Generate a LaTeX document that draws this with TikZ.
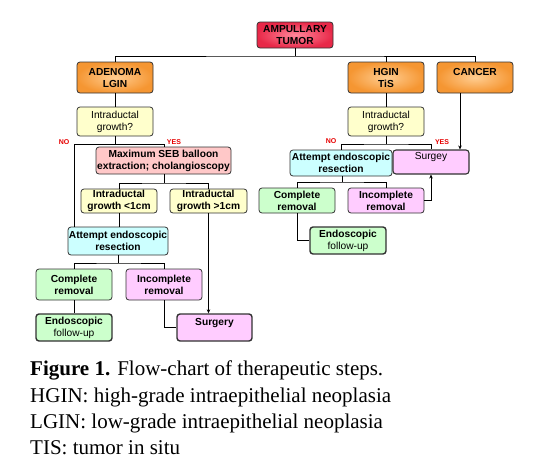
\documentclass[tikz,border=0pt]{standalone}
\usepackage{fontspec}
\setmainfont{Liberation Serif}
\newfontfamily\boxfont{Liberation Sans}
\usetikzlibrary{arrows.meta}
\definecolor{bordc}{RGB}{50,50,50}
\definecolor{redo}{RGB}{232,40,72}
\definecolor{redi}{RGB}{255,135,155}
\definecolor{orao}{RGB}{245,150,50}
\definecolor{orai}{RGB}{255,205,145}
\definecolor{yelf}{RGB}{255,255,204}
\definecolor{pinkf}{RGB}{255,200,200}
\definecolor{cyanf}{RGB}{204,255,255}
\definecolor{greenf}{RGB}{204,255,204}
\definecolor{magf}{RGB}{255,204,255}
\definecolor{labred}{RGB}{230,0,0}
\tikzset{
  bx/.style={draw=bordc, line width=0.8pt, rounded corners=3pt, align=center,
    inner sep=0pt, font=\boxfont\fontsize{10.2}{12}\selectfont\bfseries},
  thinfont/.style={font=\boxfont\fontsize{10.2}{12}\selectfont},
  thickbx/.style={bx, line width=1.4pt},
  redbx/.style={bx, inner color=redi, outer color=redo},
  orabx/.style={bx, inner color=orai, outer color=orao},
  yelbx/.style={bx, fill=yelf},
  pinkbx/.style={bx, fill=pinkf},
  cyanbx/.style={bx, fill=cyanf},
  greenbx/.style={bx, fill=greenf},
  magbx/.style={bx, fill=magf},
  conn/.style={draw=black, line width=0.9pt},
  arr/.style={draw=black, line width=0.6pt, -{Stealth[length=4pt,width=3.5pt]}},
  lab/.style={text=labred, font=\boxfont\fontsize{7}{8}\selectfont\bfseries, inner sep=0pt},
  captext/.style={anchor=base west, inner sep=0pt, font=\fontsize{21}{24}\selectfont}
}
\begin{document}
\begin{tikzpicture}[x=1pt,y=-1pt]
\useasboundingbox (0,0) rectangle (541,466);
% nodes
\node[redbx, minimum width=76pt, minimum height=26pt] (amp) at (295,35) {AMPULLARY\\TUMOR};
\node[orabx, minimum width=76pt, minimum height=31pt] (adeno) at (115,77.5) {ADENOMA\\LGIN};
\node[orabx, minimum width=76pt, minimum height=31pt] (hgin) at (386,77.5) {HGIN\\TiS};
\node[orabx, minimum width=76pt, minimum height=31pt] (cancer) at (475,77.5) {CANCER\\\phantom{X}};
\node[yelbx, thinfont, minimum width=76pt, minimum height=29pt] (igL) at (115,121.5) {Intraductal\\growth?};
\node[yelbx, thinfont, minimum width=76pt, minimum height=29pt] (igR) at (386,121.5) {Intraductal\\growth?};
\node[pinkbx, minimum width=135pt, minimum height=27pt] (seb) at (163.5,160.5) {Maximum SEB balloon\\extraction; cholangioscopy};
\node[yelbx, minimum width=76pt, minimum height=24pt] (ig2) at (119,201) {Intraductal\\growth <1cm};
\node[yelbx, minimum width=77pt, minimum height=24pt] (ig3) at (208.5,201) {Intraductal\\growth >1cm};
\node[cyanbx, minimum width=100pt, minimum height=28pt] (attL) at (118,241) {Attempt endoscopic\\resection};
\node[greenbx, minimum width=76pt, minimum height=31pt] (compL) at (74,284.5) {Complete\\removal};
\node[magbx, minimum width=76pt, minimum height=31pt] (incL) at (164,284.5) {Incomplete\\removal};
\node[greenbx, thickbx, minimum width=76pt, minimum height=27pt] (endoL) at (74,327.5) {Endoscopic\\{\mdseries follow-up}};
\node[magbx, thickbx, minimum width=75pt, minimum height=27pt] (surgL) at (214.5,327.5) {Surgery\\\phantom{X}};
\node[cyanbx, minimum width=102pt, minimum height=26pt] (attR) at (341,163) {Attempt endoscopic\\resection};
\node[magbx, thinfont, line width=1.1pt, minimum width=76pt, minimum height=24pt] (surgR) at (431,162) {Surgey\\\phantom{X}};
\node[greenbx, minimum width=76pt, minimum height=25pt] (compR) at (297,200.5) {Complete\\removal};
\node[magbx, minimum width=76pt, minimum height=25pt] (incR) at (386,200.5) {Incomplete\\removal};
\node[greenbx, thickbx, minimum width=76pt, minimum height=27pt] (endoR) at (348,240.5) {Endoscopic\\{\mdseries follow-up}};
% connectors
\coordinate (b1) at (295,56);
\draw[conn] (amp.south) -- (b1);
\draw[conn] (adeno.north) |- (b1) -| (cancer.north);
\draw[conn] (hgin.north) -- (hgin.north |- b1);
\draw[conn] (adeno.south) -- (igL.north);
\coordinate (b2) at (115,144);
\coordinate (noL) at (74,144);
\coordinate (yesL) at (164,144);
\draw[conn] (igL.south) -- (b2);
\draw[conn] (yesL) -- (noL) -- (noL |- attL.north);
\draw[conn] (yesL) -- (yesL |- seb.north);
\coordinate (b3) at (164,183);
\draw[conn] (b3 |- seb.south) -- (b3);
\draw[conn] (ig2.north) |- (b3) -| (ig3.north);
\draw[conn] (ig2.south) -- (ig2.south |- attL.north);
\coordinate (b4) at (118,263);
\draw[conn] (attL.south) -- (b4);
\draw[conn] (compL.north) |- (b4) -| (incL.north);
\draw[conn] (compL.south) -- (endoL.north);
\draw[conn] (incL.south) |- (surgL.west);
\draw[arr] (ig3.south) -- (ig3.south |- surgL.north);
\draw[conn] (hgin.south) -- (igR.north);
\coordinate (b5) at (386,144);
\draw[conn] (igR.south) -- (b5);
\draw[conn] (attR.north) |- (b5) -| (surgR.north);
\draw[arr] ([xshift=-15pt]cancer.south) -- ([xshift=-15pt]cancer.south |- surgR.north);
\coordinate (b6) at (342,182);
\draw[conn] (attR.south -| b6) -- (b6);
\draw[conn] (compR.north) |- (b6) -| (incR.north);
\draw[conn] (compR.south) |- (endoR.west);
\draw[arr] (incR.east) -| (surgR.south);
% labels
\node[lab] (noLl) at (64,142) {NO};
\node[lab] (yesLl) at (174,142) {YES};
\node[lab] (noRl) at (331,141) {NO};
\node[lab] (yesRl) at (442,142) {YES};
% caption
\node[captext] (cap1) at (30,375) {\textbf{Figure 1.} Flow-chart of therapeutic steps.};
\node[captext] (cap2) at (30,402) {HGIN: high-grade intraepithelial neoplasia};
\node[captext] (cap3) at (30,428.5) {LGIN: low-grade intraepithelial neoplasia};
\node[captext] (cap4) at (30,454) {TIS: tumor in situ};
\end{tikzpicture}
\end{document}
